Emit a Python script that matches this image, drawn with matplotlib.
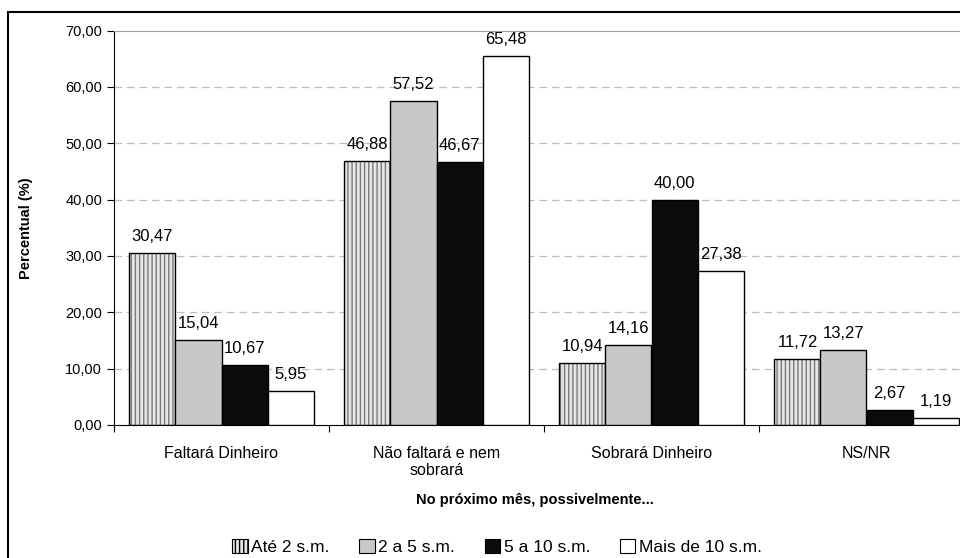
import matplotlib.pyplot as plt
from matplotlib.patches import Rectangle, Patch
import numpy as np

plt.rcParams['font.family'] = ['Liberation Sans', 'DejaVu Sans']
plt.rcParams['hatch.linewidth'] = 1.0

# Data
categories = ['Faltará Dinheiro', 'Não faltará e nem\nsobrará', 'Sobrará Dinheiro', 'NS/NR']
series = ['Até 2 s.m.', '2 a 5 s.m.', '5 a 10 s.m.', 'Mais de 10 s.m.']
ate2 = [30.47, 46.88, 10.94, 11.72]
de2a5 = [15.04, 57.52, 14.16, 13.27]
de5a10 = [10.67, 46.67, 40.00, 2.67]
mais10 = [5.95, 65.48, 27.38, 1.19]
values = [ate2, de2a5, de5a10, mais10]

faces = ['#e6e6e6', '#c8c8c8', '#0c0c0c', '#ffffff']
hatches = ['||||', None, None, None]
hatch_cols = ['#7a7a7a', None, None, None]

fig = plt.figure(figsize=(9.6, 5.58), dpi=100)
ax = fig.add_axes([114 / 960, 1 - 425 / 558, 860 / 960, (425 - 30.5) / 558])

x = np.arange(len(categories)) + 0.5
w = 0.214
for i, vals in enumerate(values):
    pos = x + (i - 1.5) * w
    if hatches[i]:
        ax.bar(pos, vals, w, color=faces[i], edgecolor=hatch_cols[i], hatch=hatches[i],
               linewidth=0, zorder=2)
        ax.bar(pos, vals, w, fill=False, edgecolor='black', linewidth=1, zorder=3)
    else:
        ax.bar(pos, vals, w, color=faces[i], edgecolor='black', linewidth=1, zorder=3)
    for p, v in zip(pos, vals):
        ax.annotate(f'{v:.2f}'.replace('.', ','), (p, v), xytext=(0, 6.5),
                    textcoords='offset points', ha='center', va='bottom', fontsize=12)

ax.set_xlim(0, 4)
ax.set_ylim(0, 70)
ax.set_yticks(range(0, 71, 10))
ax.set_yticklabels([f'{t:.2f}'.replace('.', ',') for t in range(0, 71, 10)], fontsize=10.5)
ax.set_xticks([0, 1, 2, 3, 4])
ax.set_xticklabels([])
ax.set_xticks(x, minor=True)
ax.set_xticklabels(categories, minor=True, fontsize=11.5)
ax.tick_params(axis='x', which='minor', length=0, pad=15)
ax.tick_params(axis='x', which='major', length=5, direction='out')
ax.tick_params(axis='y', length=5, direction='out')

for t in range(10, 70, 10):
    ax.axhline(t, color='#bdbdbd', linestyle=(0, (6, 4)), linewidth=0.9, zorder=0)
ax.spines['right'].set_visible(False)
ax.spines['top'].set_color('#a0a0a0')
ax.spines['left'].set_color('black')
ax.spines['bottom'].set_color('black')

ax.set_ylabel('Percentual (%)', fontsize=10.5, fontweight='bold')
ax.yaxis.set_label_coords(-0.094, 0.5)
fig.text(535 / 960, 1 - 500 / 558, 'No próximo mês, possivelmente...', ha='center',
         va='center', fontsize=10.5, fontweight='bold')

# outer border
fig.patches.append(Rectangle((8 / 960, -0.1), 1.2, 1 - 12 / 558 + 0.1, transform=fig.transFigure,
                             fill=False, edgecolor='black', linewidth=1.5))

handles = []
for i in range(4):
    handles.append(Patch(facecolor=faces[i], edgecolor='black', hatch=hatches[i], linewidth=0.8))
fig.legend(handles, series, loc='center', bbox_to_anchor=(497 / 960, 1 - 547 / 558), ncol=4,
           frameon=False, fontsize=12.5, handlelength=0.9, handleheight=0.9,
           handletextpad=0.2, columnspacing=1.7)

plt.savefig('out.png', dpi=100)
